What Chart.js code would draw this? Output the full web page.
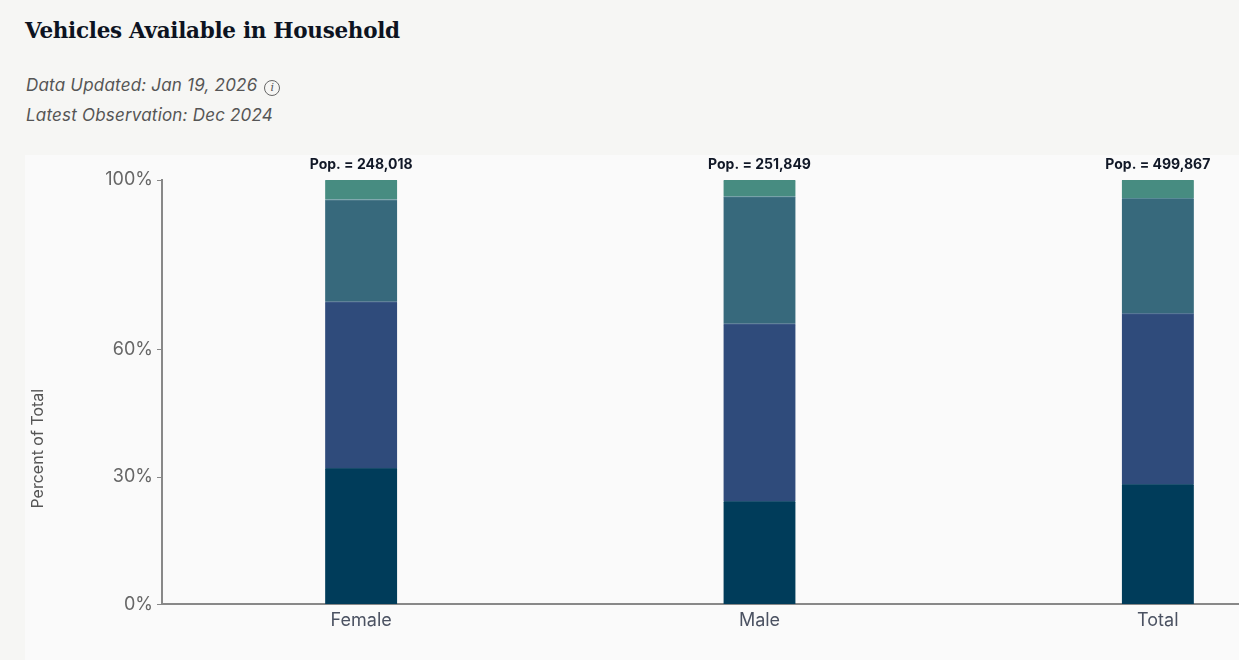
<!DOCTYPE html>
<html>
<head>
<meta charset="utf-8">
<script src="https://cdn.jsdelivr.net/npm/chart.js@4.4.1/dist/chart.umd.min.js"></script>
<style>
    html, body {
        margin: 0;
        padding: 0;
        background: #f6f6f4;
        overflow: hidden;
        width: 1239px;
        height: 660px;
    }
    h1 {
        position: absolute;
        left: 25px;
        top: 18px;
        margin: 0;
        font-family: "DejaVu Serif", serif;
        font-weight: bold;
        font-size: 21.5px;
        color: #0d1321;
        letter-spacing: -0.3px;
    }
    .meta {
        position: absolute;
        left: 26px;
        font-family: Inter, "Noto Sans", sans-serif;
        font-style: italic;
        font-size: 17px;
        letter-spacing: 0.2px;
        color: #555;
    }
    .info {
        display: inline-block;
        width: 14px;
        height: 14px;
        border: 1px solid #666;
        border-radius: 50%;
        font-size: 11px;
        font-family: "DejaVu Serif", serif;
        line-height: 14px;
        text-align: center;
        vertical-align: 0px;
        margin-left: 2px;
        letter-spacing: 0;
    }
    #card {
        position: absolute;
        left: 25px;
        top: 155px;
        width: 1340px;
        height: 505px;
        background: #fafafa;
    }
</style>
</head>
<body>
<h1>Vehicles Available in Household</h1>
<div class="meta" style="top:75px">Data Updated: Jan 19, 2026 <span class="info">i</span></div>
<div class="meta" style="top:105px">Latest Observation: Dec 2024</div>
<div id="card"><canvas id="grafico" width="1340" height="505"></canvas></div>

<script>
// Datos
const categorias = ["Female", "Male", "Total"];
const poblacion = [248018, 251849, 499867];
const sinVehiculo = [32.1, 24.3, 28.3];
const unVehiculo = [39.2, 41.8, 40.2];
const dosVehiculos = [24.1, 30.0, 27.2];
const tresOMas = [4.6, 3.9, 4.3];
const ticksY = [0, 30, 60, 100];

const series = [
    { label: "No vehicle", data: sinVehiculo, color: "#003c5a", borde: "#1f5270" },
    { label: "1 vehicle", data: unVehiculo, color: "#2f4b7b", borde: "#4a6590" },
    { label: "2 vehicles", data: dosVehiculos, color: "#37697c", borde: "#5a8a98" },
    { label: "3 or more vehicles", data: tresOMas, color: "#478c81", borde: "#478c81" },
];

// Etiquetas de población encima de cada barra y título del eje Y
const etiquetasPob = {
    id: "etiquetasPob",
    afterDatasetsDraw(chart) {
        const ctx = chart.ctx;
        const meta = chart.getDatasetMeta(chart.data.datasets.length - 1);
        ctx.save();
        ctx.font = "bold 14px Inter, sans-serif";
        ctx.fillStyle = "#111827";
        ctx.textAlign = "center";
        ctx.textBaseline = "bottom";
        meta.data.forEach((bar, i) => {
            ctx.fillText("Pop. = " + poblacion[i].toLocaleString("en-US"), bar.x, bar.y - 8);
        });

        // Título del eje Y (un poco por debajo del centro, como en el original)
        const area = chart.chartArea;
        ctx.font = "16px Inter, sans-serif";
        ctx.fillStyle = "#555";
        ctx.textBaseline = "middle";
        ctx.translate(13, area.top + (area.bottom - area.top) * 0.633);
        ctx.rotate(-Math.PI / 2);
        ctx.fillText("Percent of Total", 0, 0);
        ctx.restore();
    },
};

const ctx = document.getElementById("grafico").getContext("2d");
new Chart(ctx, {
    type: "bar",
    data: {
        labels: categorias,
        datasets: series.map((s) => ({
            label: s.label,
            data: s.data,
            backgroundColor: s.color,
            borderColor: s.borde,
            borderWidth: { top: 1, bottom: 0, left: 0, right: 0 },
            borderSkipped: false,
            barThickness: 72,
        })),
    },
    options: {
        responsive: false,
        animation: false,
        layout: { padding: { top: 25, right: 8, bottom: 29, left: 4 } },
        plugins: {
            legend: { display: false },
            tooltip: { enabled: false },
        },
        scales: {
            x: {
                stacked: true,
                grid: { display: false, drawOnChartArea: false, tickLength: 5, color: "#888" },
                border: { color: "#888", width: 2 },
                ticks: { color: "#4b5262", font: { family: "Inter", size: 18 }, padding: 0 },
            },
            y: {
                stacked: true,
                min: 0,
                max: 100,
                afterBuildTicks: (scale) => {
                    scale.ticks = ticksY.map((v) => ({ value: v }));
                },
                afterFit: (scale) => {
                    scale.width = 133;
                },
                grid: { drawOnChartArea: false, tickLength: 5, color: "#888" },
                border: { color: "#888", width: 2 },
                ticks: {
                    color: "#666",
                    font: { family: "Inter", size: 18 },
                    padding: 4,
                    callback: (v) => v + "%",
                },
            },
        },
    },
    plugins: [etiquetasPob],
});
</script>
</body>
</html>
